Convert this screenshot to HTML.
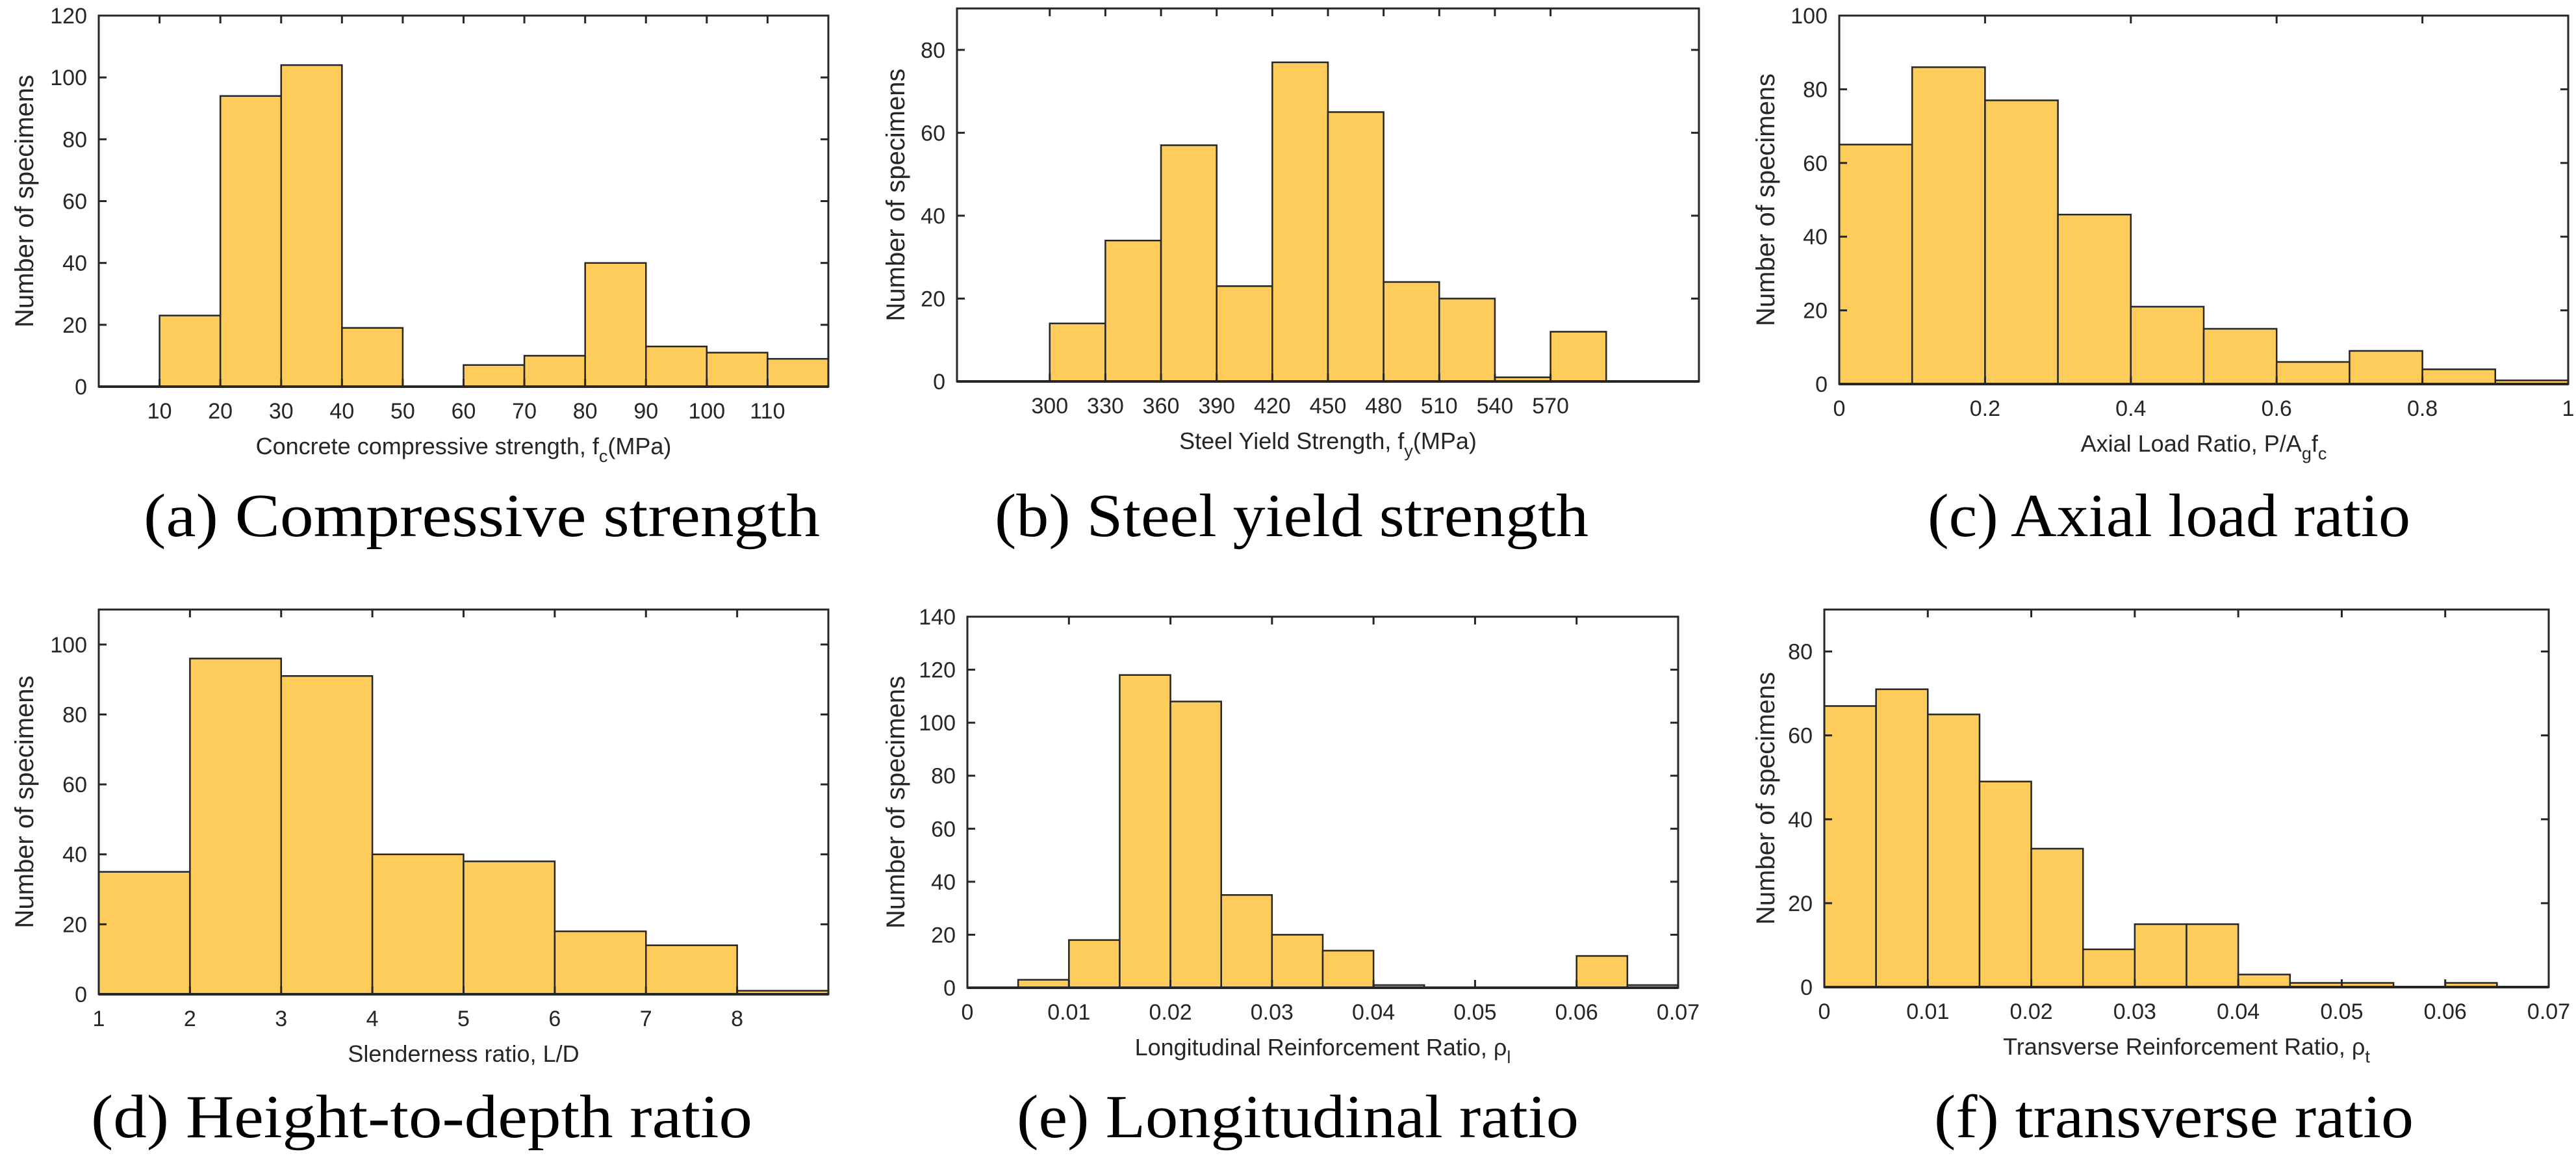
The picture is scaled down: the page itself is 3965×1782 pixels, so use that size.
<!DOCTYPE html>
<html><head><meta charset="utf-8"><style>
html,body{margin:0;padding:0;background:#fff;}
svg{display:block;}
</style></head><body>
<svg id="fig" xmlns="http://www.w3.org/2000/svg" width="3965" height="1782" viewBox="0 0 3965 1782"></svg>
<script>
// ---- data ----
const countsA = [23, 94, 104, 19, 0, 7, 10, 40, 13, 11, 9];
const binStartA = 10, binWidthA = 10;
const xTicksA = [10, 20, 30, 40, 50, 60, 70, 80, 90, 100, 110];
const yTicksA = [0, 20, 40, 60, 80, 100, 120];

const countsB = [14, 34, 57, 23, 77, 65, 24, 20, 1, 12];
const binStartB = 300, binWidthB = 30;
const xTicksB = [300, 330, 360, 390, 420, 450, 480, 510, 540, 570];
const yTicksB = [0, 20, 40, 60, 80];

const countsC = [65, 86, 77, 46, 21, 15, 6, 9, 4, 1];
const binStartC = 0, binWidthC = 0.1;
const xTicksC = [0, 0.2, 0.4, 0.6, 0.8, 1];
const yTicksC = [0, 20, 40, 60, 80, 100];

const countsD = [35, 96, 91, 40, 38, 18, 14, 1];
const binStartD = 1, binWidthD = 1;
const xTicksD = [1, 2, 3, 4, 5, 6, 7, 8];
const yTicksD = [0, 20, 40, 60, 80, 100];

const countsE = [3, 18, 118, 108, 35, 20, 14, 1, 0, 0, 0, 12, 1];
const binStartE = 0.005, binWidthE = 0.005;
const xTicksE = [0, 0.01, 0.02, 0.03, 0.04, 0.05, 0.06, 0.07];
const yTicksE = [0, 20, 40, 60, 80, 100, 120, 140];

const countsF = [67, 71, 65, 49, 33, 9, 15, 15, 3, 1, 1, 0, 1, 0];
const binStartF = 0, binWidthF = 0.005;
const xTicksF = [0, 0.01, 0.02, 0.03, 0.04, 0.05, 0.06, 0.07];
const yTicksF = [0, 20, 40, 60, 80];

const panels = [
 {id:'a', counts:countsA, start:binStartA, w:binWidthA, xt:xTicksA, yt:yTicksA, xlim:[0,120], ylim:[0,120],
  box:[152,24,1275,595], ylx:37, xlab:['Concrete compressive strength, f','c','(MPa)'], cap:'(a)  Compressive strength', capX:221, capW:1041, capY:825},
 {id:'b', counts:countsB, start:binStartB, w:binWidthB, xt:xTicksB, yt:yTicksB, xlim:[250,650], ylim:[0,90],
  box:[1473,13,2615,587], ylx:1378, xlab:['Steel Yield Strength, f','y','(MPa)'], cap:'(b) Steel yield strength', capX:1531, capW:914, capY:825},
 {id:'c', counts:countsC, start:binStartC, w:binWidthC, xt:xTicksC, yt:yTicksC, xlim:[0,1], ylim:[0,100],
  box:[2831,24,3953,591], ylx:2717, xlab:['Axial Load Ratio, P/A','g','f','c'], cap:'(c) Axial load ratio', capX:2967, capW:743, capY:825},
 {id:'d', counts:countsD, start:binStartD, w:binWidthD, xt:xTicksD, yt:yTicksD, xlim:[1,9], ylim:[0,110],
  box:[152,938,1275,1530], ylx:37, xlab:['Slenderness ratio, L/D'], cap:'(d) Height-to-depth ratio', capX:140, capW:1018, capY:1750},
 {id:'e', counts:countsE, start:binStartE, w:binWidthE, xt:xTicksE, yt:yTicksE, xlim:[0,0.07], ylim:[0,140],
  box:[1489,949,2583,1520], ylx:1378, xlab:['Longitudinal Reinforcement Ratio, \u03c1','l'], cap:'(e) Longitudinal ratio', capX:1565, capW:865, capY:1750},
 {id:'f', counts:countsF, start:binStartF, w:binWidthF, xt:xTicksF, yt:yTicksF, xlim:[0,0.07], ylim:[0,90],
  box:[2808,938,3923,1519], ylx:2717, xlab:['Transverse Reinforcement Ratio, \u03c1','t'], cap:'(f) transverse ratio', capX:2977, capW:738, capY:1750}
];

const NS = 'http://www.w3.org/2000/svg';
const svg = document.getElementById('fig');
function mk(tag, attrs, parent){
  const e = document.createElementNS(NS, tag);
  for (const k in attrs) e.setAttribute(k, attrs[k]);
  parent.appendChild(e);
  return e;
}
const SANS = '"Liberation Sans", Arial, sans-serif';
const SERIF = '"Liberation Serif", "Times New Roman", serif';
const INK = '#262626';

panels.forEach(p => {
  const [x0,y0,x1,y1] = p.box;
  const g = mk('g', {}, svg);
  
  
  const sx = v => x0 + (v - p.xlim[0]) / (p.xlim[1] - p.xlim[0]) * (x1 - x0);
  const sy = v => y1 - (v - p.ylim[0]) / (p.ylim[1] - p.ylim[0]) * (y1 - y0);

  // bars
  p.counts.forEach((c, i) => {
    const a = p.start + i * p.w, b = a + p.w;
    if (c <= 0) return;
    const r = mk('rect', {x: sx(a), y: sy(c), width: sx(b) - sx(a), height: y1 - sy(c),
      fill: '#FECC5A', stroke: INK, 'stroke-width': 2.5}, g);
    
    
  });

  // axes box
  const bx = mk('rect', {x: x0, y: y0, width: x1 - x0, height: y1 - y0, fill: 'none', stroke: INK, 'stroke-width': 3}, g);
  
  
  mk('line', {x1: x0, y1: y1, x2: x1, y2: y1, stroke: INK, 'stroke-width': 4}, g);

  // x ticks
  p.xt.forEach(t => {
    const x = sx(t);
    mk('line', {x1: x, y1: y0, x2: x, y2: y0 + 12, stroke: INK, 'stroke-width': 3}, g);
    mk('line', {x1: x, y1: y1, x2: x, y2: y1 - 12, stroke: INK, 'stroke-width': 3}, g);
    const tx = mk('text', {x: x, y: y1 + 49, 'font-family': SANS, 'font-size': 34, fill: INK, 'text-anchor': 'middle'}, g);
    tx.textContent = String(t);
    
    
  });
  // y ticks
  p.yt.forEach(t => {
    const y = sy(t);
    mk('line', {x1: x0, y1: y, x2: x0 + 12, y2: y, stroke: INK, 'stroke-width': 3}, g);
    mk('line', {x1: x1, y1: y, x2: x1 - 12, y2: y, stroke: INK, 'stroke-width': 3}, g);
    const ty = mk('text', {x: x0 - 18, y: y + 12, 'font-family': SANS, 'font-size': 34, fill: INK, 'text-anchor': 'end'}, g);
    ty.textContent = String(t);
    
    
  });

  // y axis title
  const cy = (y0 + y1) / 2;
  const yl = mk('text', {x: 0, y: 0, transform: 'translate(' + (p.ylx + 14) + ',' + cy + ') rotate(-90)',
    'font-family': SANS, 'font-size': 40, fill: INK, 'text-anchor': 'middle', textLength: 389, lengthAdjust: 'spacingAndGlyphs'}, g);
  yl.textContent = 'Number of specimens';
  
  

  // x axis title
  const xl = mk('text', {x: (x0 + x1) / 2, y: y1 + 104, 'font-family': SANS, 'font-size': 36, fill: INK, 'text-anchor': 'middle'}, g);
  
  
  p.xlab.forEach((s, i) => {
    const sub = (i % 2 === 1);
    const ts = mk('tspan', sub ? {'font-size': 27, dy: 12} : (i > 0 ? {dy: -12} : {}), xl);
    ts.textContent = s;
  });

  // caption
  const cp = mk('text', {x: p.capX, y: p.capY, 'font-family': SERIF, 'font-size': 94, fill: '#000',
    textLength: p.capW, lengthAdjust: 'spacingAndGlyphs'}, g);
  cp.textContent = p.cap;
  
  
});
</script>
</body></html>
